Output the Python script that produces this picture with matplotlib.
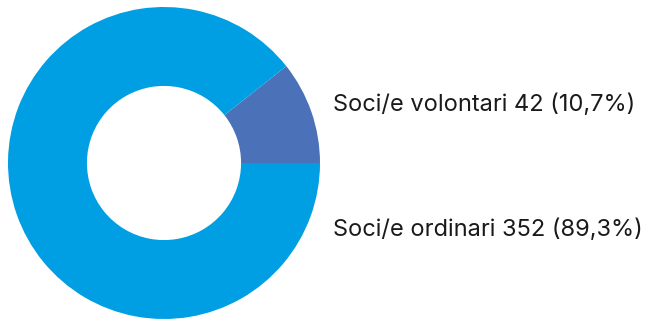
import matplotlib.pyplot as plt

# Data to plot
labels = ['Soci/e volontari', 'Soci/e ordinari']
values = [42, 352]
colors = ['#4B72B8', '#009FE3']

fig = plt.figure(figsize=(6.46, 3.19), dpi=100)
ax = fig.add_axes([8 / 646, 0, 312 / 646, 312 / 319])

ax.pie(values, colors=colors, startangle=0, counterclock=True,
       radius=1, wedgeprops=dict(width=0.506, linewidth=0))
ax.set_xlim(-1, 1)
ax.set_ylim(-1, 1)
ax.set_aspect('equal')
ax.axis('off')

total = sum(values)
label_y = [1 - 105 / 319, 1 - 230 / 319]
for lab, v, y in zip(labels, values, label_y):
    pct = ('%.1f' % (100 * v / total)).replace('.', ',')
    fig.text(333 / 646, y, '%s %d (%s%%)' % (lab, v, pct),
             fontsize=17, family='Inter', color='#1a1a1a',
             ha='left', va='center')

fig.savefig('out.png', dpi=100)
